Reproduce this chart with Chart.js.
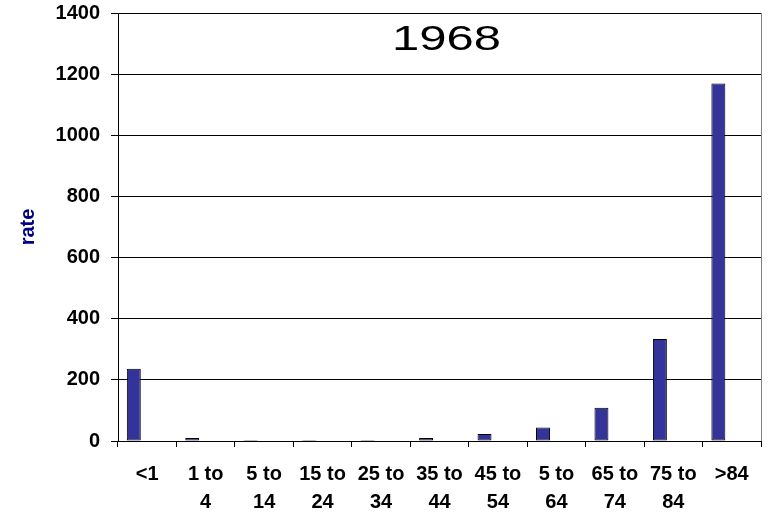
<!DOCTYPE html>
<html>
<head>
<meta charset="utf-8">
<script src="https://cdn.jsdelivr.net/npm/chart.js@4/dist/chart.umd.min.js"></script>
<style>
  html, body { margin: 0; padding: 0; background: #ffffff; }
  #wrap { width: 773px; height: 513px; }
</style>
</head>
<body>
<div id="wrap"><canvas id="c" width="773" height="513"></canvas></div>
<script>
// Age groups (two-line labels where the group spans a range)
const ageGroups = [
  '<1', ['1 to', '4'], ['5 to', '14'], ['15 to', '24'], ['25 to', '34'],
  ['35 to', '44'], ['45 to', '54'], ['5 to', '64'], ['65 to', '74'],
  ['75 to', '84'], '>84'
];
// Rate per age group, 1968
const rates1968 = [236, 10, 3, 3, 3, 10, 23, 44, 109, 334, 1169];
// Second series of the workbook has no values
const emptySeries = [];
const yearTitle = '1968';
const axisTitle = 'rate';

const FONT = '"Liberation Sans", Arial, sans-serif';

// Year caption drawn inside the plot area
const yearCaption = {
  id: 'yearCaption',
  afterDraw(chart) {
    const { ctx, chartArea } = chart;
    const cx = (chartArea.left + chartArea.right) / 2 + 7;
    ctx.save();
    ctx.translate(cx, chartArea.top + 37);
    ctx.scale(1.4, 1);
    ctx.font = '35px ' + FONT;
    ctx.fillStyle = '#000000';
    ctx.textAlign = 'center';
    ctx.textBaseline = 'alphabetic';
    ctx.fillText(yearTitle, 0, 0);
    ctx.restore();
  }
};

new Chart(document.getElementById('c'), {
  type: 'bar',
  data: {
    labels: ageGroups,
    datasets: [
      {
        label: 'rate',
        data: rates1968,
        backgroundColor: '#333399',
        borderColor: '#000000',
        borderWidth: 1,
        borderSkipped: false,
        categoryPercentage: 0.918,
        barPercentage: 0.52
      },
      {
        label: 'series 2',
        data: emptySeries,
        backgroundColor: '#993366',
        categoryPercentage: 0.918,
        barPercentage: 0.52
      }
    ]
  },
  options: {
    responsive: false,
    animation: false,
    devicePixelRatio: 1,
    layout: { padding: { top: 13, right: 12, bottom: 0, left: 0 } },
    plugins: {
      legend: { display: false },
      tooltip: { enabled: false },
      title: { display: false }
    },
    scales: {
      x: {
        offset: true,
        afterFit(scale) { scale.height = 72; },
        border: { display: true, color: '#000000', width: 1 },
        grid: {
          offset: true,
          drawOnChartArea: true,
          color: (ctx) => ctx.type === 'scale' ? '#808080' : 'rgba(0,0,0,0)',
          tickColor: '#000000',
          tickLength: 6,
          lineWidth: 1
        },
        ticks: {
          autoSkip: false,
          maxRotation: 0,
          minRotation: 0,
          padding: 13,
          color: '#000000',
          font: { family: FONT, size: 20, weight: 'bold', lineHeight: 1.4 }
        }
      },
      y: {
        min: 0,
        max: 1400,
        afterFit(scale) {
          scale.width = 118;
          scale.paddingTop = 0;
          scale.paddingBottom = 0;
        },
        border: { display: true, color: '#000000', width: 1 },
        grid: {
          color: '#000000',
          tickColor: '#000000',
          tickLength: 7,
          lineWidth: 1
        },
        ticks: {
          stepSize: 200,
          padding: 11,
          color: '#000000',
          font: { family: FONT, size: 20, weight: 'bold' },
          callback: (value) => String(value)
        },
        title: {
          display: true,
          text: axisTitle,
          color: '#000080',
          padding: { top: 16, bottom: 0 },
          font: { family: FONT, size: 20, weight: 'bold', lineHeight: 1.2 }
        }
      }
    }
  },
  plugins: [yearCaption]
});
</script>
</body>
</html>
